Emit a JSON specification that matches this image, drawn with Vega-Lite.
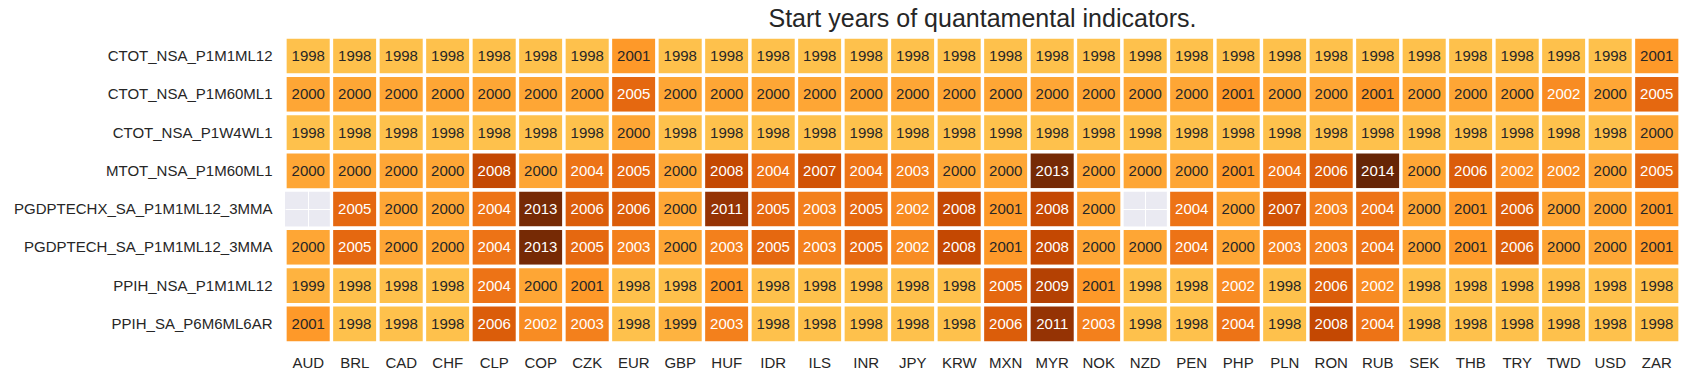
{
  "$schema": "https://vega.github.io/schema/vega-lite/v6.json",
  "width": 1395,
  "height": 306,
  "autosize": {"type": "none"},
  "padding": {"left": 285, "top": 37, "right": 10, "bottom": 38},
  "background": "white",
  "title": {"text": "Start years of quantamental indicators.", "fontSize": 25, "font": "Liberation Sans", "fontWeight": "normal", "color": "#262626", "anchor": "middle", "offset": 3},
  "config": {
    "view": {"fill": "#eaeaf2", "stroke": null},
    "axis": {"labelFont": "Liberation Sans", "labelFontSize": 15, "labelColor": "#262626", "labelLimit": 500, "ticks": false, "domain": false, "grid": true, "gridColor": "white", "gridWidth": 1, "title": null, "zindex": 0}
  },
  "datasets": {
    "raw": [
      {"ind": "CTOT_NSA_P1M1ML12", "AUD": 1998, "BRL": 1998, "CAD": 1998, "CHF": 1998, "CLP": 1998, "COP": 1998, "CZK": 1998, "EUR": 2001, "GBP": 1998, "HUF": 1998, "IDR": 1998, "ILS": 1998, "INR": 1998, "JPY": 1998, "KRW": 1998, "MXN": 1998, "MYR": 1998, "NOK": 1998, "NZD": 1998, "PEN": 1998, "PHP": 1998, "PLN": 1998, "RON": 1998, "RUB": 1998, "SEK": 1998, "THB": 1998, "TRY": 1998, "TWD": 1998, "USD": 1998, "ZAR": 2001},
      {"ind": "CTOT_NSA_P1M60ML1", "AUD": 2000, "BRL": 2000, "CAD": 2000, "CHF": 2000, "CLP": 2000, "COP": 2000, "CZK": 2000, "EUR": 2005, "GBP": 2000, "HUF": 2000, "IDR": 2000, "ILS": 2000, "INR": 2000, "JPY": 2000, "KRW": 2000, "MXN": 2000, "MYR": 2000, "NOK": 2000, "NZD": 2000, "PEN": 2000, "PHP": 2001, "PLN": 2000, "RON": 2000, "RUB": 2001, "SEK": 2000, "THB": 2000, "TRY": 2000, "TWD": 2002, "USD": 2000, "ZAR": 2005},
      {"ind": "CTOT_NSA_P1W4WL1", "AUD": 1998, "BRL": 1998, "CAD": 1998, "CHF": 1998, "CLP": 1998, "COP": 1998, "CZK": 1998, "EUR": 2000, "GBP": 1998, "HUF": 1998, "IDR": 1998, "ILS": 1998, "INR": 1998, "JPY": 1998, "KRW": 1998, "MXN": 1998, "MYR": 1998, "NOK": 1998, "NZD": 1998, "PEN": 1998, "PHP": 1998, "PLN": 1998, "RON": 1998, "RUB": 1998, "SEK": 1998, "THB": 1998, "TRY": 1998, "TWD": 1998, "USD": 1998, "ZAR": 2000},
      {"ind": "MTOT_NSA_P1M60ML1", "AUD": 2000, "BRL": 2000, "CAD": 2000, "CHF": 2000, "CLP": 2008, "COP": 2000, "CZK": 2004, "EUR": 2005, "GBP": 2000, "HUF": 2008, "IDR": 2004, "ILS": 2007, "INR": 2004, "JPY": 2003, "KRW": 2000, "MXN": 2000, "MYR": 2013, "NOK": 2000, "NZD": 2000, "PEN": 2000, "PHP": 2001, "PLN": 2004, "RON": 2006, "RUB": 2014, "SEK": 2000, "THB": 2006, "TRY": 2002, "TWD": 2002, "USD": 2000, "ZAR": 2005},
      {"ind": "PGDPTECHX_SA_P1M1ML12_3MMA", "AUD": null, "BRL": 2005, "CAD": 2000, "CHF": 2000, "CLP": 2004, "COP": 2013, "CZK": 2006, "EUR": 2006, "GBP": 2000, "HUF": 2011, "IDR": 2005, "ILS": 2003, "INR": 2005, "JPY": 2002, "KRW": 2008, "MXN": 2001, "MYR": 2008, "NOK": 2000, "NZD": null, "PEN": 2004, "PHP": 2000, "PLN": 2007, "RON": 2003, "RUB": 2004, "SEK": 2000, "THB": 2001, "TRY": 2006, "TWD": 2000, "USD": 2000, "ZAR": 2001},
      {"ind": "PGDPTECH_SA_P1M1ML12_3MMA", "AUD": 2000, "BRL": 2005, "CAD": 2000, "CHF": 2000, "CLP": 2004, "COP": 2013, "CZK": 2005, "EUR": 2003, "GBP": 2000, "HUF": 2003, "IDR": 2005, "ILS": 2003, "INR": 2005, "JPY": 2002, "KRW": 2008, "MXN": 2001, "MYR": 2008, "NOK": 2000, "NZD": 2000, "PEN": 2004, "PHP": 2000, "PLN": 2003, "RON": 2003, "RUB": 2004, "SEK": 2000, "THB": 2001, "TRY": 2006, "TWD": 2000, "USD": 2000, "ZAR": 2001},
      {"ind": "PPIH_NSA_P1M1ML12", "AUD": 1999, "BRL": 1998, "CAD": 1998, "CHF": 1998, "CLP": 2004, "COP": 2000, "CZK": 2001, "EUR": 1998, "GBP": 1998, "HUF": 2001, "IDR": 1998, "ILS": 1998, "INR": 1998, "JPY": 1998, "KRW": 1998, "MXN": 2005, "MYR": 2009, "NOK": 2001, "NZD": 1998, "PEN": 1998, "PHP": 2002, "PLN": 1998, "RON": 2006, "RUB": 2002, "SEK": 1998, "THB": 1998, "TRY": 1998, "TWD": 1998, "USD": 1998, "ZAR": 1998},
      {"ind": "PPIH_SA_P6M6ML6AR", "AUD": 2001, "BRL": 1998, "CAD": 1998, "CHF": 1998, "CLP": 2006, "COP": 2002, "CZK": 2003, "EUR": 1998, "GBP": 1999, "HUF": 2003, "IDR": 1998, "ILS": 1998, "INR": 1998, "JPY": 1998, "KRW": 1998, "MXN": 2006, "MYR": 2011, "NOK": 2003, "NZD": 1998, "PEN": 1998, "PHP": 2004, "PLN": 1998, "RON": 2008, "RUB": 2004, "SEK": 1998, "THB": 1998, "TRY": 1998, "TWD": 1998, "USD": 1998, "ZAR": 1998}
    ]
  },
  "data": {"name": "raw"},
  "transform": [
    {"fold": ["AUD","BRL","CAD","CHF","CLP","COP","CZK","EUR","GBP","HUF","IDR","ILS","INR","JPY","KRW","MXN","MYR","NOK","NZD","PEN","PHP","PLN","RON","RUB","SEK","THB","TRY","TWD","USD","ZAR"], "as": ["cur", "year"]},
    {"filter": "datum.year != null"}
  ],
  "encoding": {
    "x": {"field": "cur", "type": "nominal", "sort": "ascending", "scale": {"paddingInner": 0, "paddingOuter": 0}, "axis": {"labelAngle": 0, "labelPadding": 12, "orient": "bottom", "zindex": 0}},
    "y": {"field": "ind", "type": "nominal", "sort": ["CTOT_NSA_P1M1ML12","CTOT_NSA_P1M60ML1","CTOT_NSA_P1W4WL1","MTOT_NSA_P1M60ML1","PGDPTECHX_SA_P1M1ML12_3MMA","PGDPTECH_SA_P1M1ML12_3MMA","PPIH_NSA_P1M1ML12","PPIH_SA_P6M6ML6AR"], "scale": {"paddingInner": 0, "paddingOuter": 0}, "axis": {"labelPadding": 13, "zindex": 0}}
  },
  "layer": [
    {"mark": {"type": "rect", "stroke": "white", "strokeWidth": 3.3}, "encoding": {"color": {"field": "year", "type": "quantitative", "scale": {"domain": [1988, 1991.25, 1994.5, 1997.75, 2001, 2004.25, 2007.5, 2010.75, 2014], "range": ["#ffffe5","#fff7bc","#fee391","#fec44f","#fe9929","#ec7014","#cc4c02","#993404","#662506"], "interpolate": "rgb"}, "legend": null}}},
    {"mark": {"type": "text", "font": "Liberation Sans", "fontSize": 15}, "encoding": {"text": {"field": "year", "type": "quantitative", "format": "d"}, "color": {"condition": {"test": "datum.year >= 2002", "value": "white"}, "value": "#262626"}}}
  ]
}
